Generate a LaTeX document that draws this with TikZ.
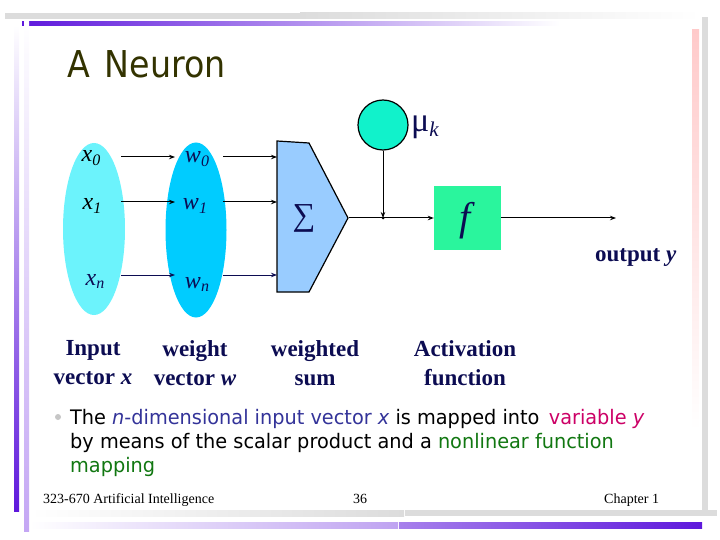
\documentclass[tikz,border=0pt]{standalone}
\usepackage{fontspec}
\setmainfont{Liberation Serif}
\newfontfamily\tahoma{DejaVu Sans}
\usetikzlibrary{arrows.meta,shapes.geometric}
\definecolor{navy}{HTML}{0C0C52}
\definecolor{olive}{HTML}{333300}
\definecolor{cyanA}{HTML}{6CF3FC}
\definecolor{cyanB}{HTML}{00CCFF}
\definecolor{sumblue}{HTML}{99CCFF}
\definecolor{mint}{HTML}{11F2CB}
\definecolor{fgreen}{HTML}{2AF59D}
\definecolor{purp}{HTML}{5E18DC}
\definecolor{lilac}{HTML}{C4A6F4}
\definecolor{lgray}{HTML}{DCDCDC}
\definecolor{pinkbar}{HTML}{FFCACA}
\definecolor{slate}{HTML}{333399}
\definecolor{crimson}{HTML}{CC0066}
\definecolor{dgreen}{HTML}{117711}
\tikzset{
  arr/.style={-{Stealth[length=6pt,width=4.5pt]}, line width=1pt},
  lbl/.style={anchor=base, inner sep=0pt, font=\fontsize{24}{24}\selectfont\itshape},
  capt/.style={align=center, inner sep=0pt, text=navy, font=\fontsize{23}{29}\selectfont\bfseries},
  foot/.style={anchor=base west, inner sep=0pt, font=\fontsize{14}{14}\selectfont},
  body/.style={anchor=base west, inner sep=0pt, font=\tahoma\fontsize{20}{20}\selectfont},
}
\newcommand{\sub}[1]{\raisebox{-0.3ex}{\fontsize{16}{16}\selectfont #1}}
\begin{document}
\begin{tikzpicture}[x=1pt,y=-1pt]
\useasboundingbox (0,0) rectangle (720,540);
% frame decorations (unflipped y inside scope: write -y)
\begin{scope}[y=1pt]
\fill[lgray] (5,-13) rectangle (300,-19);
\shade[left color=lgray, right color=white] (300,-13) rectangle (700,-19);
\shade[left color=purp, right color=white] (22,-22) rectangle (560,-26);
\shade[top color=white, bottom color=purp] (14,-25) rectangle (19,-511);
\shade[top color=white, bottom color=lilac] (24,-22) rectangle (29,-531);
\fill[lgray] (702,-17) rectangle (708,-515);
\shade[top color=pinkbar, bottom color=white] (692,-30) rectangle (699,-430);
\shade[left color=white, right color=lgray] (30,-510) rectangle (404,-516);
\fill[lgray] (405,-510) rectangle (717,-516);
\shade[left color=white, right color=purp!40] (30,-522) rectangle (398,-528);
\shade[left color=purp!55, right color=purp] (399,-522) rectangle (702,-528);
\end{scope}
% title
\node[anchor=base west, inner sep=0pt, text=olive, font=\tahoma\fontsize{37}{37}\selectfont] (title) at (67,78) {\scalebox{0.9}[1]{A\hspace{0.45em}Neuron}};
% ellipses
\node[ellipse, fill=cyanA, minimum width=62pt, minimum height=172pt, inner sep=0pt] (xin) at (94,229) {};
\node[ellipse, fill=cyanB, minimum width=61pt, minimum height=175pt, inner sep=0pt] (win) at (196,230) {};
% labels
\node[lbl] (x0) at (91,162) {x\sub{0}};
\node[lbl] (x1) at (92,210) {x\sub{1}};
\node[lbl, text=navy] (xn) at (95,285) {x\sub{n}};
\node[lbl, text=navy] (w0) at (197,163) {w\sub{0}};
\node[lbl, text=navy] (w1) at (195,210) {w\sub{1}};
\node[lbl, text=navy] (wn) at (197,288) {w\sub{n}};
% sum pentagon
\filldraw[fill=sumblue, draw=black, line width=1.2pt] (277,141) -- (309,143) -- (348,218) -- (309,292) -- (277,292) -- cycle;
\node[text=navy, font=\fontsize{32}{32}\selectfont] (sigma) at (304,218) {∑};
\coordinate (s0) at (277,157);
\coordinate (s1) at (277,202);
\coordinate (sn) at (277,275);
\coordinate (stip) at (349,218);
% arrows x -> w -> sum
\coordinate (a0) at (121,157); \coordinate (b0) at (175,157); \coordinate (c0) at (223,157);
\coordinate (a1) at (121,202); \coordinate (b1) at (175,202); \coordinate (c1) at (223,202);
\coordinate (an) at (121,275); \coordinate (bn) at (175,275); \coordinate (cn) at (223,275);
\draw[arr] (a0) -- (b0);
\draw[arr] (c0) -- (s0);
\draw[arr] (a1) -- (b1);
\draw[arr] (c1) -- (s1);
\draw[arr, navy] (an) -- (bn);
\draw[arr, navy] (cn) -- (sn);
% bias circle
\node[circle, fill=mint, draw=black, line width=1.2pt, minimum size=50pt, inner sep=0pt] (mu) at (383,125) {};
\node[anchor=base west, inner sep=0pt, text=navy, font=\fontsize{34}{34}\selectfont] (mulbl) at (411,132) {μ\raisebox{-0.3ex}{\fontsize{21}{21}\selectfont\itshape k}};
\coordinate (junc) at (383,218);
% activation box
\node[fill=fgreen, minimum width=67pt, minimum height=63pt, inner sep=0pt] (fbox) at (467.5,218) {};
\node[text=navy, font=\fontsize{40}{40}\selectfont\itshape] (flbl) at (465,221) {f};
\draw[line width=1pt] (stip) -- (junc);
\draw[arr] (junc) -- (fbox.west);
\draw[arr] (mu.south) -- (junc);
\fill (junc) circle (1.5pt);
\coordinate (outend) at (616,218);
\draw[arr] (fbox.east) -- (outend);
\node[anchor=base west, inner sep=0pt, text=navy, font=\fontsize{23}{23}\selectfont\bfseries] (outlbl) at (595,261) {output \textit{y}};
% captions
\node[capt] (capx) at (93,363) {Input\\vector \textit{x}};
\node[capt] (capw) at (195,363) {weight\\vector \textit{w}};
\node[capt] (caps) at (315,363) {weighted\\sum};
\node[capt] (capa) at (465,363) {Activation\\function};
% bullet text
\fill[gray!45] (58,417) circle (3pt);
\node[body] (l1) at (70,424) {\scalebox{0.965}[1]{The \textcolor{slate}{\textit{n}-dimensional input vector \textit{x}} is mapped into\, \textcolor{crimson}{variable \textit{y}}}};
\node[body] (l2) at (70,448) {\scalebox{0.965}[1]{by means of the scalar product and a \textcolor{dgreen}{nonlinear function}}};
\node[body] (l3) at (70,472) {\scalebox{0.965}[1]{\textcolor{dgreen}{mapping}}};
% footer
\node[foot] (f1) at (43,503) {323-670 Artificial Intelligence};
\node[foot] (f2) at (353,503) {36};
\node[foot] (f3) at (604,503) {Chapter 1};
\end{tikzpicture}
\end{document}
